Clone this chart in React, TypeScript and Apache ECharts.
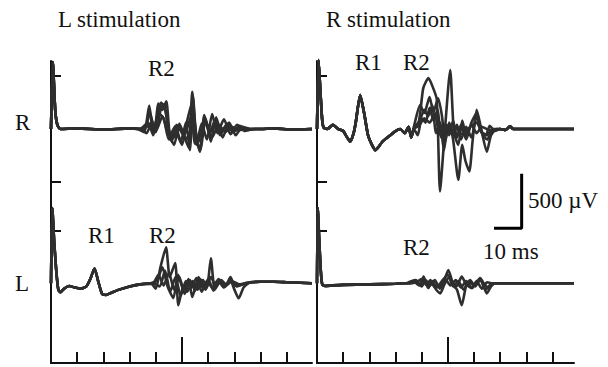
import React, { useEffect, useRef } from "react";
import * as echarts from "echarts";

// ---- axis settings (ms, µV) ----
const X_MAX_LEFT = 99.6;
const X_MAX_RIGHT = 98.2;
const Y_MIN = -752;
const Y_MAX = 2097;
const OFFSET_R = 1456; // vertical offset of the R-channel traces (µV)
const xTicks = [10, 20, 30, 40, 50, 60, 70, 80, 90];
const xLongTick = [50];
const yTicks = [500, OFFSET_R - 500, OFFSET_R + 500];

// ---- L stimulation, R channel ----
const lsR_pre = [[0, 0], [0.7, 630], [1.6, 180], [2.4, 40], [3.5, 0], [10, 5], [20, -5], [30, 5]];
const lsR_post = [[80, 0], [85, 5], [92, -5], [99.6, 0]];
const lsR_1 = [[33, 0], [35.5, -30], [37.5, 220], [39, -40], [40.5, 120], [42, 250], [43.5, 200], [45, -40], [47, -150], [49, 50], [51, -80], [52.6, -180], [53.9, 350], [55.3, -60], [56.8, -215], [58.5, 130], [60.5, -50], [62.5, 80], [64.5, -60], [67, 40], [69.5, -30], [72, 30], [75, -10], [78, 0]];
const lsR_2 = [[33, 0], [36, 20], [37.8, 150], [39.5, -20], [41, 240], [42.5, 180], [44, 260], [45.5, -60], [47.5, 30], [49.5, -120], [51.5, 60], [53, -200], [54.2, 300], [55.5, -100], [57, -190], [59, 100], [61, -120], [63, 110], [65.5, -80], [68, 60], [70.5, -60], [73, 20], [76, 0]];
const lsR_3 = [[34, 0], [37, 60], [39, -60], [41, 150], [43, 100], [45, -100], [47.5, -30], [50, -150], [52, 80], [53.8, 250], [55.5, -150], [57.5, 50], [59.5, -100], [61.5, 140], [63.5, -40], [66, 90], [68.5, -50], [71, 40], [74, -20], [77, 0]];
const lsR_4 = [[34, 0], [36.5, -40], [38.5, 80], [40, -30], [42, 200], [43, 230], [44.5, 60], [46, -120], [48, 40], [50.5, -60], [52.5, -100], [54, 200], [55.5, -60], [57, -120], [59, 80], [61.5, -80], [64, 40], [66.5, -30], [69, 20], [72, -10], [75, 0]];
const lsR_5 = [[35, 0], [38, 40], [40, -20], [42.5, 120], [44.5, -30], [46.5, -90], [49, 20], [51, -50], [53.5, 120], [55, -140], [57, -60], [59, 60], [61, -20], [63, 70], [65, -20], [67.5, 50], [70, -20], [73, 10], [76, 0]];

// ---- L stimulation, L channel ----
const lsL_pre = [[0, 0], [0.5, 710], [1.2, 400], [2, 120], [2.8, -60], [3.6, -85], [5, -50], [7, -25], [9, -40], [11.5, -50], [13.5, -30], [15, 40], [16.6, 140], [18, 20], [19.5, -100], [21, -110], [23, -90], [26, -60], [30, -30], [34, -10]];
const lsL_post = [[80, 15], [85, 15], [90, 10], [95, 5], [99.6, 0]];
const lsL_1 = [[38, 0], [40, -50], [41.7, 145], [43.9, 340], [45.3, 60], [47.4, 190], [48.6, -207], [50.5, -30], [52, -80], [54, 20], [56, -60], [58, 30], [59.5, -40], [61, 236], [62.5, -60], [64.5, 10], [66.5, -30], [68.5, 60], [70, -20], [72, -20], [74.5, 0], [77, 10]];
const lsL_2 = [[38, 0], [40.5, 30], [42.5, 150], [44.5, -30], [46.7, -140], [48.5, 80], [50.5, -60], [52.5, 40], [53.9, -130], [56.3, 60], [58, -50], [60, 40], [62, -70], [64, 20], [66, -40], [68.4, 30], [70, -60], [71.6, -141], [73.5, -40], [76, 10]];
const lsL_3 = [[39, 0], [41, 80], [43, -20], [45, 100], [47, -60], [49, 60], [51, -100], [53, 30], [55, -70], [57, 40], [59, -60], [61, 60], [63, -30], [65, 30], [67, -20], [69, 20], [72, -10], [76, 10]];
const lsL_4 = [[39, 0], [41.5, -30], [43.5, 120], [45.5, -80], [47.5, 60], [49.5, -120], [51.5, 20], [53.5, -40], [55.5, 50], [57.5, -80], [59.5, 20], [61.5, -40], [64, 40], [66, -20], [68.5, 20], [71, -30], [74, 0], [77, 10]];

// ---- R stimulation, R channel ----
const rsR_pre = [[0, 0], [0.6, 650], [1.3, 350], [2, 80], [2.6, 10], [4, 0], [6.1, 40], [8, 0], [10, -20], [11.5, -80], [12.7, -120], [14, -40], [14.8, 60], [16.5, 320], [18, 150], [19.5, -60], [21, -150], [22.3, -200], [23.5, -170], [25, -120], [28, -60], [30, -20], [31.8, 0], [33.5, -40], [35, 20], [36, -80]];
const rsR_post = [[70, 0], [72, -10], [73.8, 25], [75, 0], [80, 0], [90, 0], [98.2, 0]];
const rsR_1 = [[37, 0], [39, 80], [40.6, 385], [42.6, 480], [44.4, 385], [45.8, 275], [47, -590], [48.6, -100], [50.9, 556], [52.3, -30], [54, -150], [55.5, 80], [57, -60], [59, 40], [61, -40], [63, 20], [66, -10]];
const rsR_2 = [[37, 20], [39.4, 225], [41, 150], [43, 300], [44.5, 160], [46.3, 290], [47.7, 130], [49, -120], [50.5, 60], [52, -100], [54, -480], [55.5, -150], [56.7, -300], [58.2, -400], [59.5, -100], [61, 180], [62.5, 30], [64.9, -215], [66.5, -60], [68.6, 0]];
const rsR_3 = [[37, 0], [38.5, -60], [40, 100], [41.5, 60], [43, 200], [44.5, 80], [46, 180], [47.5, -80], [49, 40], [50.5, -60], [52, 80], [53.5, -80], [55, 40], [57, -100], [59, 60], [61, 150], [62.5, -20], [64.5, -60], [66, 30], [68, -20]];
const rsR_4 = [[37, 0], [39, 60], [41, 180], [42.5, 120], [44, 220], [45.5, -40], [47, 60], [48.5, -200], [50, 20], [52, -60], [53.5, 40], [55, -100], [57, 20], [59, -80], [61, 120], [63, -40], [65, -100], [67, -20]];
const rsR_5 = [[37, 0], [39, 30], [41, 100], [43, 60], [45, 140], [46.5, -20], [48, -80], [49.5, 40], [51, -40], [53, 20], [55, -50], [57, -20], [59, 30], [61, 60], [63, -30], [65, -60], [67, 0]];

// ---- R stimulation, L channel ----
const rsL_pre = [[0, 0], [0.3, 710], [0.9, 380], [1.5, 100], [2, -10], [3, -25], [6, -20], [10, -15], [20, -10], [30, -5], [33, 0]];
const rsL_post = [[70, 0], [80, 0], [90, 0], [98.2, 0]];
const rsL_1 = [[34, 0], [36, 20], [37.8, 30], [39.5, -20], [40.7, 63], [42, -10], [43.3, 30], [45, -40], [47.1, -30], [48.5, 20], [50.2, 125], [51.8, 10], [53.3, -30], [55.3, 63], [57, -10], [59.2, -45], [61, 10], [62.3, 50], [64, -10], [65.5, -40], [67, -10], [69, 0]];
const rsL_2 = [[35, 0], [37, 15], [39, -20], [40.7, 50], [42.5, -45], [44, 20], [45.5, -60], [47.1, -95], [48.5, -20], [50.5, 60], [52, -20], [53.5, -60], [55.3, -207], [57, -20], [58.5, 30], [60.5, -30], [62.3, 40], [64.9, -95], [66.5, -30], [68, 0]];
const rsL_3 = [[35, 0], [38, 10], [40, -30], [41.5, 30], [43.3, -20], [45, 30], [47, -50], [49, 40], [51, -20], [53, 30], [55, -40], [57, 20], [59.2, -45], [61, 20], [63, -50], [65, 10], [67, 0]];
const rsL_4 = [[36, 0], [38.5, 20], [40, 40], [42, -20], [44, 10], [46, -30], [48, 30], [50, 80], [52, -30], [54, 20], [56, -60], [58, 10], [60, -20], [62.5, 30], [64.5, -60], [66, -20], [68, 0]];

// ---- scale bar (ms, µV) in the right panel ----
const scaleBar = [[68.2, 520], [78.2, 520], [78.2, 1020]];

const FONT = "Liberation Serif";
const TRACE_COLOR = "#2e2e2e";

function traceSeries(pre: number[][], burst: number[][], post: number[][], grid: number, offset: number) {
  const data = [...pre, ...burst, ...post].map(([t, v]) => [t, v + offset]);
  return {
    type: "line",
    xAxisIndex: grid * 2,
    yAxisIndex: grid,
    data,
    showSymbol: false,
    smooth: 0.2,
    silent: true,
    clip: false,
    lineStyle: { color: TRACE_COLOR, width: 2.6 },
  };
}

function mainX(grid: number, max: number) {
  return {
    type: "value",
    gridIndex: grid,
    min: 0,
    max,
    position: "bottom",
    axisLine: { show: true, onZero: false, lineStyle: { color: "#111", width: 2 } },
    axisTick: { show: true, inside: true, length: 11, customValues: xTicks, lineStyle: { color: "#111", width: 2 } },
    axisLabel: { show: false },
    splitLine: { show: false },
  };
}
function longX(grid: number, max: number) {
  return {
    type: "value",
    gridIndex: grid,
    min: 0,
    max,
    position: "bottom",
    offset: 0,
    axisLine: { show: false, onZero: false },
    axisTick: { show: true, inside: true, length: 26, customValues: xLongTick, lineStyle: { color: "#111", width: 2 } },
    axisLabel: { show: false },
    splitLine: { show: false },
  };
}
function yAx(grid: number) {
  return {
    type: "value",
    gridIndex: grid,
    min: Y_MIN,
    max: Y_MAX,
    axisLine: { show: true, onZero: false, lineStyle: { color: "#111", width: 2 } },
    axisTick: { show: true, inside: true, length: 10, customValues: yTicks, lineStyle: { color: "#111", width: 2 } },
    axisLabel: { show: false },
    splitLine: { show: false },
  };
}

function label(text: string, x: number, y: number) {
  return {
    type: "text",
    x,
    y,
    style: { text, fill: "#111", fontFamily: FONT, fontSize: 23, textAlign: "left", textVerticalAlign: "middle" },
  };
}

export default function App() {
  const ref = useRef<HTMLDivElement>(null);
  useEffect(() => {
    if (!ref.current) return;
    const chart = echarts.init(ref.current, null, { renderer: "svg" });
    const series: any[] = [
      traceSeries(lsR_pre, lsR_1, lsR_post, 0, OFFSET_R),
      traceSeries(lsR_pre, lsR_2, lsR_post, 0, OFFSET_R),
      traceSeries(lsR_pre, lsR_3, lsR_post, 0, OFFSET_R),
      traceSeries(lsR_pre, lsR_4, lsR_post, 0, OFFSET_R),
      traceSeries(lsR_pre, lsR_5, lsR_post, 0, OFFSET_R),
      traceSeries(lsL_pre, lsL_1, lsL_post, 0, 0),
      traceSeries(lsL_pre, lsL_2, lsL_post, 0, 0),
      traceSeries(lsL_pre, lsL_3, lsL_post, 0, 0),
      traceSeries(lsL_pre, lsL_4, lsL_post, 0, 0),
      traceSeries(rsR_pre, rsR_1, rsR_post, 1, OFFSET_R),
      traceSeries(rsR_pre, rsR_2, rsR_post, 1, OFFSET_R),
      traceSeries(rsR_pre, rsR_3, rsR_post, 1, OFFSET_R),
      traceSeries(rsR_pre, rsR_4, rsR_post, 1, OFFSET_R),
      traceSeries(rsR_pre, rsR_5, rsR_post, 1, OFFSET_R),
      traceSeries(rsL_pre, rsL_1, rsL_post, 1, 0),
      traceSeries(rsL_pre, rsL_2, rsL_post, 1, 0),
      traceSeries(rsL_pre, rsL_3, rsL_post, 1, 0),
      traceSeries(rsL_pre, rsL_4, rsL_post, 1, 0),
      {
        type: "line",
        xAxisIndex: 2,
        yAxisIndex: 1,
        data: scaleBar,
        showSymbol: false,
        silent: true,
        clip: false,
        lineStyle: { color: "#000", width: 3, cap: "square" },
      },
    ];
    chart.setOption({
      animation: false,
      backgroundColor: "#ffffff",
      grid: [
        { left: 51, top: 61, width: 261, height: 302 },
        { left: 317, top: 61, width: 257, height: 302 },
      ],
      xAxis: [mainX(0, X_MAX_LEFT), longX(0, X_MAX_LEFT), mainX(1, X_MAX_RIGHT), longX(1, X_MAX_RIGHT)],
      yAxis: [yAx(0), yAx(1)],
      series,
      graphic: [
        label("L stimulation", 58, 19),
        label("R stimulation", 326, 19),
        label("R2", 148, 68),
        label("R1", 355, 62),
        label("R2", 403, 62),
        label("R", 15, 122),
        label("L", 15, 283),
        label("R1", 88, 235),
        label("R2", 149, 235),
        label("R2", 403, 247),
        label("500 µV", 528, 200),
        label("10 ms", 483, 251),
      ],
    });
    return () => chart.dispose();
  }, []);
  return (
    <div
      ref={ref}
      style={{ position: "fixed", left: 0, top: 0, width: 608, height: 367, background: "#fff" }}
    />
  );
}
